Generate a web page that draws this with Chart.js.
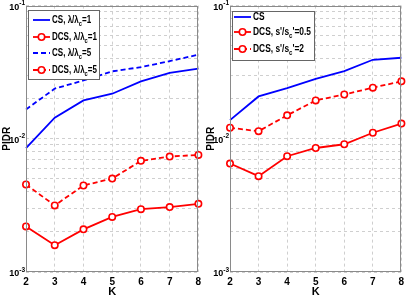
<!DOCTYPE html>
<html><head><meta charset="utf-8">
<script src="https://cdn.jsdelivr.net/npm/chart.js@4"></script>
<style>
html,body{margin:0;padding:0;background:#fff;}
#wrap{position:relative;width:407px;height:295px;overflow:hidden;}
canvas{position:absolute;top:0;}
</style></head>
<body><div id="wrap">
<canvas id="c1" width="204" height="295" style="left:0"></canvas>
<canvas id="c2" width="203" height="295" style="left:204px"></canvas>
</div>
<script>
// ---- data ----
const K = [2, 3, 4, 5, 6, 7, 8];
// left panel
const csLam1   = [0.0085, 0.0144, 0.0194, 0.0218, 0.0270, 0.0313, 0.0336];
const dcsLam1  = [0.00220, 0.00159, 0.00209, 0.00259, 0.00296, 0.00307, 0.00325];
const csLam5   = [0.0166, 0.0238, 0.0274, 0.0321, 0.0345, 0.0383, 0.0428];
const dcsLam5  = [0.00454, 0.00316, 0.00446, 0.00503, 0.00683, 0.00736, 0.00757];
// right panel
const csRight  = [0.0138, 0.0208, 0.0240, 0.0282, 0.0322, 0.0392, 0.0406];
const dcsS05   = [0.00652, 0.00524, 0.00740, 0.00853, 0.00910, 0.0111, 0.0130];
const dcsS2    = [0.0121, 0.0114, 0.0150, 0.0194, 0.0215, 0.0242, 0.0270];
// axis ticks
const yTickValues = [0.001,0.002,0.003,0.004,0.005,0.006,0.007,0.008,0.009,
                     0.01,0.02,0.03,0.04,0.05,0.06,0.07,0.08,0.09,0.1];
const yMajorValues = [0.001, 0.01, 0.1];
const yMajorExp    = ['-3', '-2', '-1'];
const leftLabels  = ['CS, \u03BB/\u03BB_c=1', 'DCS, \u03BB/\u03BB_c=1', 'CS, \u03BB/\u03BB_c=5', 'DCS, \u03BB/\u03BB_c=5'];
const rightLabels = ['CS', "DCS, s'/s_c'=0.5", "DCS, s'/s_c'=2"];

const BLUE = '#0000ff', RED = '#ff0000';
const FONT = 'Liberation Sans, Arial, sans-serif';

function ds(label, data, color, dashed, marker) {
  return {
    label, data, borderColor: color, backgroundColor: '#ffffff',
    borderWidth: 1.8, borderDash: dashed ? [5, 3] : [],
    pointRadius: marker ? 3.2 : 0, pointBorderWidth: 1.6,
    pointBackgroundColor: '#ffffff', pointBorderColor: color,
    pointStyle: 'circle', tension: 0, fill: false
  };
}

function drawRich(ctx, text, x, y, size, draw) {
  // '_x' => subscript single char; returns total width
  let cx = x;
  for (let i = 0; i < text.length; i++) {
    let ch = text[i];
    let sub = false;
    if (ch === '_' && i + 1 < text.length) { ch = text[++i]; sub = true; }
    ctx.font = 'bold ' + (sub ? size * 0.72 : size) + 'px ' + FONT;
    if (draw) ctx.fillText(ch, cx, sub ? y + size * 0.38 : y);
    cx += ctx.measureText(ch).width;
  }
  return cx - x;
}

function legendPlugin(box) {
  return {
    id: 'customLegend',
    afterDraw(chart) {
      const ctx = chart.ctx;
      ctx.save();
      const a = chart.chartArea;
      // y major tick labels 10^n
      const ys = chart.scales.y;
      ctx.fillStyle = '#000'; ctx.textBaseline = 'alphabetic';
      yMajorValues.forEach((v, i) => {
        const py = ys.getPixelForValue(v);
        ctx.font = 'bold 6.5px ' + FONT;
        const ew = ctx.measureText(yMajorExp[i]).width;
        ctx.textAlign = 'right';
        ctx.fillText(yMajorExp[i], a.left - 1, py - 0.5);
        ctx.font = 'bold 9px ' + FONT;
        ctx.fillText('10', a.left - 1 - ew, py + 4);
      });
      // frame of plot
      ctx.strokeStyle = '#8a8a8a'; ctx.lineWidth = 1; ctx.setLineDash([]);
      ctx.strokeRect(Math.round(a.left) + 0.5, Math.round(a.top) + 0.5,
                     Math.round(a.right - a.left) - 1, Math.round(a.bottom - a.top) - 1);
      // legend box
      ctx.fillStyle = '#ffffff';
      ctx.fillRect(box.x, box.y, box.w, box.h);
      ctx.strokeStyle = '#666666';
      ctx.strokeRect(box.x + 0.5, box.y + 0.5, box.w - 1, box.h - 1);
      // common horizontal condensing so the longest label fits like the original
      ctx.textAlign = 'left';
      let maxW = 0;
      chart.data.datasets.forEach(d => { maxW = Math.max(maxW, drawRich(ctx, d.label, 0, 0, box.fs, false)); });
      const f = Math.min(1, box.textW / maxW);
      chart.data.datasets.forEach((d, i) => {
        const y = box.rows[i];
        ctx.strokeStyle = d.borderColor; ctx.lineWidth = 1.8;
        ctx.setLineDash(d.borderDash || []);
        ctx.beginPath(); ctx.moveTo(box.lx0, y); ctx.lineTo(box.lx1, y); ctx.stroke();
        ctx.setLineDash([]);
        if (d.pointRadius > 0) {
          ctx.beginPath(); ctx.arc((box.lx0 + box.lx1) / 2, y, 3.2, 0, Math.PI * 2);
          ctx.fillStyle = '#fff'; ctx.fill();
          ctx.lineWidth = 1.6; ctx.strokeStyle = d.borderColor; ctx.stroke();
        }
        ctx.save();
        ctx.fillStyle = '#000'; ctx.textBaseline = 'middle';
        ctx.translate(box.tx, y); ctx.scale(f, 1);
        drawRich(ctx, d.label, 0, 0, box.fs, true);
        ctx.restore();
      });
      ctx.restore();
    }
  };
}

function makeChart(id, datasets, box, padRight) {
  return new Chart(document.getElementById(id), {
    type: 'line',
    data: { labels: K, datasets },
    options: {
      responsive: false, animation: false, devicePixelRatio: 1,
      layout: { padding: { left: 0, right: padRight, top: 5, bottom: 0 } },
      plugins: { legend: { display: false }, tooltip: { enabled: false } },
      scales: {
        x: {
          type: 'category', offset: false,
          grid: { color: '#cfcfcf', lineWidth: 1, drawTicks: false },
          border: { display: false, dash: [3, 3] },
          ticks: { color: '#000', padding: 4, font: { family: FONT, size: 10, weight: 'bold' }, maxRotation: 0 },
          title: { display: true, text: 'K', color: '#000', padding: { top: 0, bottom: -2 },
                   font: { family: FONT, size: 11, weight: 'bold', lineHeight: 1 } },
          afterFit(s) { s.height = 23; s.paddingLeft = 0; s.paddingRight = 0; }
        },
        y: {
          type: 'logarithmic', min: 0.001, max: 0.1,
          afterBuildTicks(s) { s.ticks = yTickValues.map(v => ({ value: v })); },
          grid: { color: '#cfcfcf', lineWidth: 1, drawTicks: false },
          border: { display: false, dash: [3, 3] },
          ticks: {
            autoSkip: false, color: '#000', padding: 2,
            font: { family: FONT, size: 9, weight: 'bold' },
            callback() { return ''; }
          },
          title: { display: true, text: 'PIDR', color: '#000', padding: { top: 2, bottom: 0 },
                   font: { family: FONT, size: 10, weight: 'bold', lineHeight: 1 } },
          afterFit(s) { s.width = 26; s.paddingTop = 0; s.paddingBottom = 0; }
        }
      }
    },
    plugins: [legendPlugin(box)]
  });
}

makeChart('c1', [
  ds(leftLabels[0], csLam1, BLUE, false, false),
  ds(leftLabels[1], dcsLam1, RED, false, true),
  ds(leftLabels[2], csLam5, BLUE, true, false),
  ds(leftLabels[3], dcsLam5, RED, true, true)
], { x: 28, y: 10, w: 72, h: 70, rows: [20, 37, 53, 70], lx0: 33, lx1: 50, tx: 52, fs: 10, textW: 45 }, 4);

makeChart('c2', [
  ds(rightLabels[0], csRight, BLUE, false, false),
  ds(rightLabels[1], dcsS05, RED, false, true),
  ds(rightLabels[2], dcsS2, RED, true, true)
], { x: 28, y: 11, w: 83, h: 50, rows: [17, 32, 49], lx0: 30, lx1: 47, tx: 49, fs: 10, textW: 58 }, 3);
</script>
</body></html>
